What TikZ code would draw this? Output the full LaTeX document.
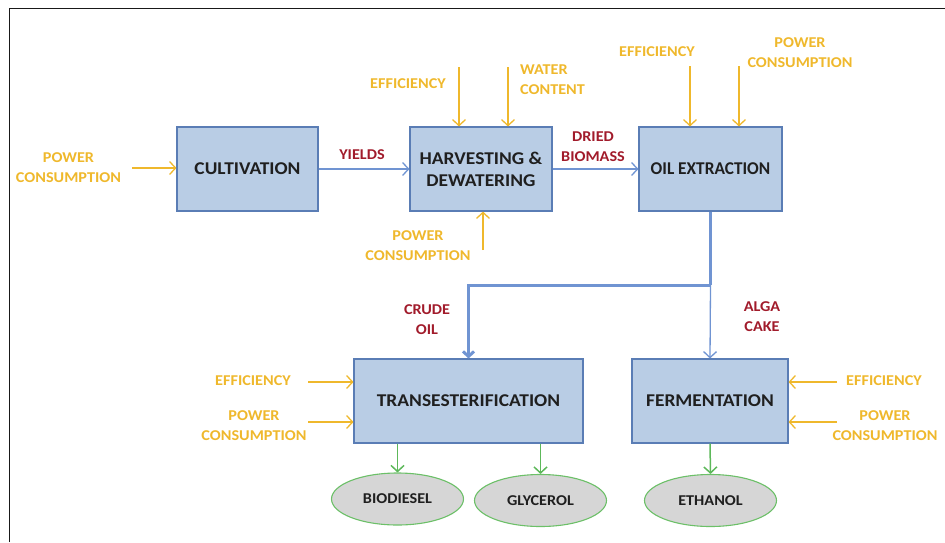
\documentclass[tikz,border=0pt]{standalone}
\usepackage{fontspec}
\usepackage{graphicx}
\setmainfont{Carlito}[FakeStretch=1.08]
\usetikzlibrary{arrows.meta,shapes.geometric}
\definecolor{boxfill}{HTML}{B9CDE5}
\definecolor{boxline}{HTML}{5A7DB5}
\definecolor{gold}{HTML}{EFB82C}
\definecolor{dred}{HTML}{A11B2B}
\definecolor{flow}{HTML}{7094D2}
\definecolor{ellfill}{HTML}{D6D6D6}
\definecolor{ellline}{HTML}{6CC068}
\definecolor{garrow}{HTML}{5DB85A}
\begin{document}
\begin{tikzpicture}[x=1pt,y=-1pt,
  proc/.style={draw=boxline, fill=boxfill, line width=1.1pt, minimum width=#1, minimum height=84pt, inner sep=0pt, font=\fontsize{18}{22}\selectfont\bfseries, text=black!88, align=center},
  prod/.style={ellipse, draw=ellline, fill=ellfill, line width=1.1pt, minimum width=132pt, minimum height=52pt, inner sep=0pt, font=\fontsize{15}{16}\selectfont\bfseries, text=black!88},
  param/.style={text=gold, font=\fontsize{15}{20}\selectfont\bfseries, align=center, inner sep=0pt},
  flowlbl/.style={text=dred, font=\fontsize{15}{20}\selectfont\bfseries, align=center, inner sep=0pt},
  ya/.style={draw=gold, line width=1.3pt, -{Straight Barb[length=6pt,width=13pt]}},
  ba/.style={draw=flow, line width=1.3pt, -{Straight Barb[length=6pt,width=13pt]}},
  bthick/.style={draw=flow, line width=3pt, -{Straight Barb[length=5pt,width=11pt]}},
  ga/.style={draw=garrow, line width=1.5pt, -{Straight Barb[length=6pt,width=13pt]}}
]
\useasboundingbox (0,0) rectangle (945,542);
\draw[line width=1.8pt, black!90] (9.5,542) -- (9.5,8.5) -- (945,8.5);

% process boxes
\node[proc=141pt] (cult) at (247.5,169) {CULTIVATION};
\node[proc=142pt] (harv) at (481,169) {HARVESTING \&\\DEWATERING};
\node[proc=143pt] (oil) at (710.5,169) {\scalebox{0.89}[1]{OIL EXTRACTION}};
\node[proc=229pt] (trans) at (468.5,401) {TRANSESTERIFICATION};
\node[proc=156pt] (ferm) at (710,401) {FERMENTATION};

% products
\node[prod] (bio) at (397.5,499) {BIODIESEL};
\node[prod] (gly) at (540.5,500.5) {GLYCEROL};
\node[prod] (eth) at (710.5,500.5) {ETHANOL};

% parameter labels
\node[param] (pc1) at (68.5,168) {POWER\\CONSUMPTION};
\node[param] (ef1) at (408,84) {EFFICIENCY};
\node[param, align=left, anchor=west] (wc) at (520,80) {WATER\\CONTENT};
\node[param] (pc2) at (418,246) {POWER\\CONSUMPTION};
\node[param] (ef2) at (657,52) {EFFICIENCY};
\node[param] (pc3) at (800,53) {POWER\\CONSUMPTION};
\node[param] (ef3) at (253,381) {EFFICIENCY};
\node[param] (pc4) at (254,426) {POWER\\CONSUMPTION};
\node[param] (ef4) at (884,381) {EFFICIENCY};
\node[param] (pc5) at (885,426) {POWER\\CONSUMPTION};

% flow labels
\node[flowlbl] (yl) at (362,155) {YIELDS};
\node[flowlbl] (db) at (593,147) {DRIED\\BIOMASS};
\node[flowlbl] (co) at (427,320) {CRUDE\\OIL};
\node[flowlbl] (ac) at (762,317) {ALGA\\CAKE};

% free ends
\coordinate (s1) at (132,168);
\coordinate (s2) at (459,67);
\coordinate (s3) at (508,67);
\coordinate (s4) at (483,250);
\coordinate (s5) at (690,66);
\coordinate (s6) at (739,66);
\coordinate (s7) at (308,382);
\coordinate (s8) at (308,422);
\coordinate (s9) at (837,382);
\coordinate (s10) at (837,422);
\coordinate (j) at (710.5,285);

% parameter arrows
\draw[ya] (s1) -- (s1 -| cult.west);
\draw[ya] (s2) -- (s2 |- harv.north);
\draw[ya] (s3) -- (s3 |- harv.north);
\draw[ya] (s4) -- (s4 |- harv.south);
\draw[ya] (s5) -- (s5 |- oil.north);
\draw[ya] (s6) -- (s6 |- oil.north);
\draw[ya] (s7) -- (s7 -| trans.west);
\draw[ya] (s8) -- (s8 -| trans.west);
\draw[ya] (s9) -- (s9 -| ferm.east);
\draw[ya] (s10) -- (s10 -| ferm.east);

% main flow
\draw[ba] (cult.east) -- (harv.west);
\draw[ba] (harv.east) -- (oil.west);
\draw[flow, line width=3pt] (oil.south) -- (j);
\draw[bthick] (j) -| (trans.north);
\draw[ba] (j) -- (ferm.north);

% products
\draw[ga] (trans.south -| bio.north) -- (bio.north);
\draw[ga] (trans.south -| gly.north) -- (gly.north);
\draw[ga] (ferm.south) -- (eth.north);
\end{tikzpicture}
\end{document}
